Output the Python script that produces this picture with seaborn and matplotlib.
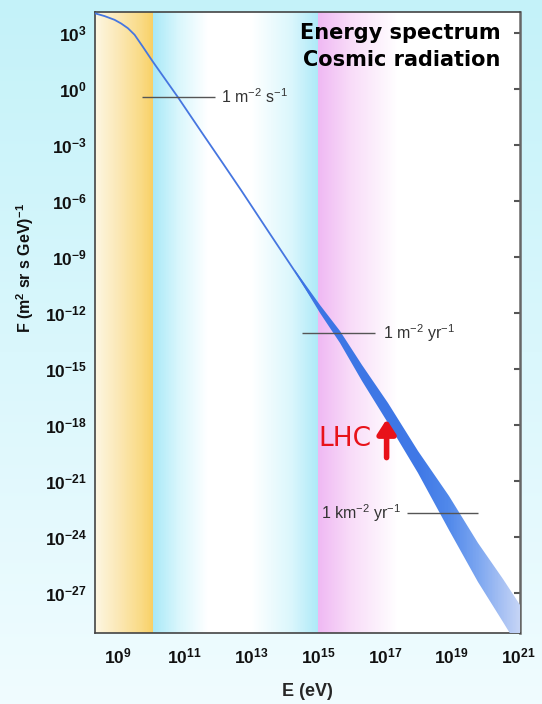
import numpy as np
import pandas as pd
import seaborn as sns
import matplotlib.pyplot as plt
from matplotlib.colors import to_rgb
from matplotlib.patches import Polygon

# cosmic ray spectrum (log10 E in eV, log10 F)
spec_log_e = [8.31, 8.6, 8.9, 9.1, 9.3, 9.5, 9.75, 10.05, 10.8, 11.5, 12.15, 12.7,
              13.55, 14.35, 15.05, 15.65, 16.3, 17.1, 18.0, 18.93, 19.8, 20.53, 21.1]
spec_log_f = [4.05, 3.9, 3.7, 3.5, 3.25, 2.9, 2.25, 1.45, -0.45, -2.3, -4.0, -5.45,
              -7.75, -9.9, -11.8, -13.3, -15.2, -17.35, -20.0, -22.71, -25.39, -27.4, -29.0]

# uncertainty band at high energy (half width in decades of F)
band_log_e = [14.3, 15.05, 15.65, 16.3, 17.1, 18.0, 18.93, 19.8, 20.53, 21.1]
band_center = [-9.75, -11.8, -13.3, -15.2, -17.35, -20.0, -22.71, -25.39, -27.4, -29.0]
band_half = [0.04, 0.2, 0.32, 0.43, 0.54, 0.6, 0.9, 1.05, 1.15, 1.2]

# reference flux levels
ref_labels = ["1 m$^{-2}$ s$^{-1}$", "1 m$^{-2}$ yr$^{-1}$", "1 km$^{-2}$ yr$^{-1}$"]
ref_log_f = [-0.43, -13.07, -22.7]
ref_e_start = [9.72, 14.51, 17.65]
ref_e_end = [11.9, 16.69, 19.78]

# LHC marker
lhc_log_e = 17.05
lhc_from = -19.9
lhc_to = -17.55

x_tick_exp = [9, 11, 13, 15, 17, 19, 21]
y_tick_exp = [3, 0, -3, -6, -9, -12, -15, -18, -21, -24, -27]

# coloured energy regions behind the curve
region_log_e = [8.31, 9.0, 9.7, 10.04, 10.05, 10.8, 11.7, 13.0, 14.2, 14.99, 15.0, 16.0, 17.4, 21.05]
region_colors = ["#fdf6e2", "#fbe8b6", "#f9da84", "#f8d066", "#a8e8f7", "#d8f6fc", "#ffffff",
                 "#ffffff", "#daf6fc", "#aee9f7", "#efb8f3", "#f8dcf8", "#ffffff", "#ffffff"]

# colour of the band along energy
band_col_e = [14.3, 18.0, 18.9, 19.8, 20.5, 21.1]
band_col = ["#3b74e4", "#3f78e6", "#5088ea", "#7ca6f0", "#a6c0f3", "#c8d6f6"]

sns.set_theme(style="white")
plt.rcParams["font.family"] = ["Liberation Sans", "DejaVu Sans"]
plt.rcParams["mathtext.default"] = "regular"

fig = plt.figure(figsize=(5.42, 7.04), dpi=100)

# slide background
bg = fig.add_axes([0, 0, 1, 1])
top, bottom = np.array(to_rgb("#c4f2f9")), np.array(to_rgb("#f0fcff"))
t = np.linspace(0, 1, 200)[:, None]
grad = top + (bottom - top) * t
bg.imshow(grad[:, None, :], aspect="auto", extent=[0, 1, 0, 1])
bg.axis("off")

ax = fig.add_axes([0.175, 0.101, 0.784, 0.882])
ax.set_xscale("log")
ax.set_yscale("log")
xlim = (10 ** 8.31, 10 ** 21.04)
ylim = (10 ** -29.14, 10 ** 4.12)


def colour_strip(stops, colors, n=600):
    fine = np.linspace(stops[0], stops[-1], n)
    rgb = np.array([to_rgb(c) for c in colors])
    cols = np.stack([np.interp(fine, stops, rgb[:, k]) for k in range(3)], axis=-1)
    edges = 10 ** np.linspace(stops[0], stops[-1], n + 1)
    return edges, cols[None, :, :]


# background regions
xe, cols = colour_strip(region_log_e, region_colors)
ax.pcolormesh(xe, [ylim[0], ylim[1]], cols, shading="flat", zorder=0)

df = pd.DataFrame({"E": 10.0 ** np.array(spec_log_e), "F": 10.0 ** np.array(spec_log_f)})
sns.lineplot(data=df, x="E", y="F", ax=ax, color="#4676e0", lw=1.3, zorder=3)

# widening band, filled with a gradient clipped to its outline
be = np.array(band_log_e)
lo = np.array(band_center) - np.array(band_half)
hi = np.array(band_center) + np.array(band_half)
outline = np.column_stack([10 ** np.r_[be, be[::-1]], 10 ** np.r_[hi, lo[::-1]]])
patch = Polygon(outline, closed=True, facecolor="none", edgecolor="none")
ax.add_patch(patch)
xe, cols = colour_strip(band_col_e, band_col, 300)
mesh = ax.pcolormesh(xe, [ylim[0], ylim[1]], cols, shading="flat", zorder=4)
mesh.set_clip_path(patch)

for lab, f, e0, e1 in zip(ref_labels, ref_log_f, ref_e_start, ref_e_end):
    ax.hlines(10 ** f, 10 ** e0, 10 ** e1, color="#555555", lw=1.0, zorder=5)
ax.text(10 ** 12.1, 10 ** ref_log_f[0], ref_labels[0], ha="left", va="center",
        fontsize=11.5, color="#333333")
ax.text(10 ** 16.95, 10 ** ref_log_f[1], ref_labels[1], ha="left", va="center",
        fontsize=11.5, color="#333333")
ax.text(10 ** 17.5, 10 ** ref_log_f[2], ref_labels[2], ha="right", va="center",
        fontsize=11.5, color="#333333")

ax.annotate("", xy=(10 ** lhc_log_e, 10 ** lhc_to), xytext=(10 ** lhc_log_e, 10 ** lhc_from),
            arrowprops=dict(arrowstyle="-|>,head_width=0.45,head_length=0.7",
                            color="#e8121a", lw=4), zorder=6)
ax.text(10 ** 16.6, 10 ** -18.75, "LHC", color="#e8121a", fontsize=19,
        family="DejaVu Sans", ha="right", va="center")

ax.text(0.955, 0.982, "Energy spectrum\nCosmic radiation", transform=ax.transAxes,
        ha="right", va="top", fontsize=15, fontweight="bold", color="black",
        family="DejaVu Sans", linespacing=1.4, zorder=7)

ax.set_xlim(xlim)
ax.set_ylim(ylim)
ax.minorticks_off()
ax.set_xticks([10.0 ** e for e in x_tick_exp])
ax.set_xticklabels([f"$10^{{{e}}}$" for e in x_tick_exp])
ax.set_yticks([10.0 ** e for e in y_tick_exp])
ax.set_yticklabels([f"$10^{{{e}}}$" for e in y_tick_exp])
ax.tick_params(axis="both", length=0, labelsize=12.5, colors="#111111")
ax.tick_params(axis="x", pad=10)
ax.tick_params(axis="y", pad=6)
ax.tick_params(axis="y", which="major", right=True, direction="in", length=4,
               width=1.5, color="#555555")
for lbl in ax.get_xticklabels() + ax.get_yticklabels():
    lbl.set_fontweight("bold")
for side in ["left", "bottom", "top", "right"]:
    ax.spines[side].set_color("#444444")
    ax.spines[side].set_linewidth(1.2)
ax.spines["right"].set_linewidth(1.8)
ax.spines["right"].set_color("#666666")

ax.set_xlabel("E (eV)", fontsize=13, fontweight="bold", labelpad=12)
ax.set_ylabel("")
fig.text(25 / 542, 1 - 268 / 704, "$F$ (m$^2$ sr s GeV)$^{-1}$", rotation=90,
         ha="center", va="center", fontsize=11.5, fontweight="bold", color="#111111")

fig.savefig("out.png", dpi=100)
